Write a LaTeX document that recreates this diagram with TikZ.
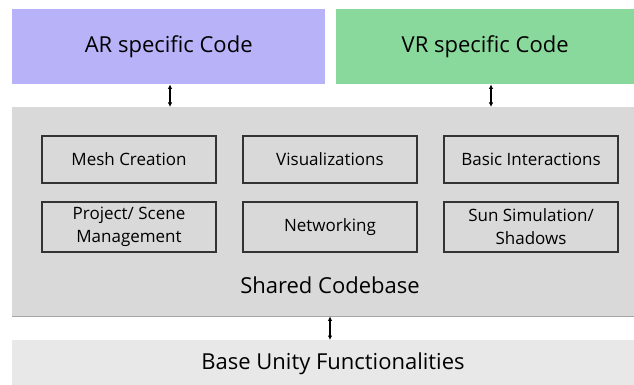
\documentclass[tikz,border=0pt]{standalone}
\usepackage{fontspec}
\setmainfont{Open Sans}
\usetikzlibrary{arrows.meta}
\definecolor{arcol}{HTML}{B8B2F8}
\definecolor{vrcol}{HTML}{8AD99C}
\definecolor{sharedcol}{HTML}{D9D9D9}
\definecolor{basecol}{HTML}{E8E8E8}
\tikzset{
  layer/.style={inner sep=0pt, anchor=north west},
  title/.style={font=\fontsize{22}{24}\selectfont},
  modbox/.style={draw=black!80, line width=1.2pt, minimum width=174pt, minimum height=47pt, align=center, font=\fontsize{17}{23}\selectfont, inner sep=0pt},
  link/.style={{Latex[length=4.5pt,width=4.5pt]}-{Latex[length=4.5pt,width=4.5pt]}, line width=1.1pt}
}
\begin{document}
\begin{tikzpicture}[x=1pt,y=1pt,yscale=-1]
    \useasboundingbox (0,0) rectangle (634,385);
    % top layers
    \node[layer, fill=arcol, minimum width=313pt, minimum height=75pt] (ar) at (12,9) {};
    \node[title] at (ar.center) {AR specific Code};
    \node[layer, fill=vrcol, minimum width=298pt, minimum height=75pt] (vr) at (336,9) {};
    \node[title] at (vr.center) {VR specific Code};
    % shared codebase
    \node[layer, fill=sharedcol, minimum width=622pt, minimum height=209pt] (shared) at (12,107) {};
    \draw[black!35, line width=0.6pt] (shared.south west) -- (shared.south east);
    \node[title] (sharedlbl) at (330,285) {Shared Codebase};
    % modules
    \node[modbox] (mesh) at (129,159.5) {Mesh Creation};
    \node[modbox] (vis) at (330,159.5) {Visualizations};
    \node[modbox] (inter) at (531,159.5) {Basic Interactions};
    \node[modbox, minimum height=50pt] (scene) at (129,227) {Project/ Scene\\Management};
    \node[modbox, minimum height=50pt] (net) at (330,227) {Networking};
    \node[modbox, minimum height=50pt] (sun) at (531,227) {Sun Simulation/\\Shadows};
    % base layer
    \node[layer, fill=basecol, minimum width=622pt, minimum height=45pt] (base) at (12,340) {};
    \node[title] at (333,364) {Base Unity Functionalities};
    % connectors
    \draw[link] (ar.south -| 170,0) -- (shared.north -| 170,0);
    \draw[link] (vr.south -| 491,0) -- (shared.north -| 491,0);
    \draw[link] (shared.south -| 330,0) -- (base.north -| 330,0);
\end{tikzpicture}
\end{document}
